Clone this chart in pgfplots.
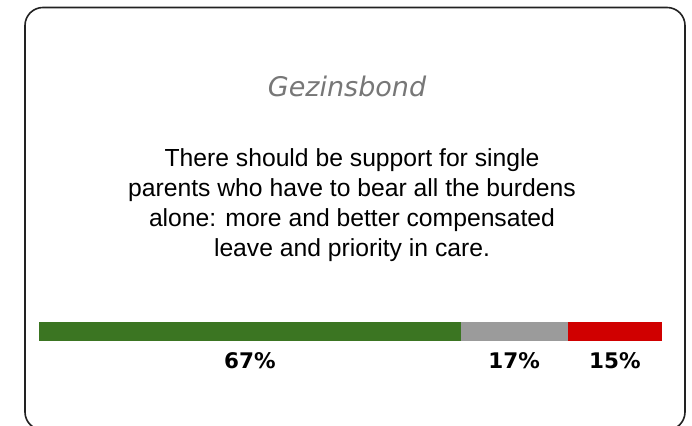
\documentclass[border=0pt]{standalone}
\usepackage{pgfplots}
\pgfplotsset{compat=1.18}
\usepackage{fontspec}
\setmainfont{Liberation Sans}
\newfontfamily\djv{DejaVu Sans}
\definecolor{cgreen}{HTML}{3B7522}
\definecolor{cgray}{HTML}{9B9B9B}
\definecolor{cred}{HTML}{D00000}
\definecolor{cborder}{HTML}{222222}
\definecolor{ctitle}{HTML}{777777}
\begin{document}
\begin{tikzpicture}[x=1pt,y=1pt]
\useasboundingbox (0,0) rectangle (692,425);
\clip (0,0) rectangle (692,425);
\fill[white] (0,0) rectangle (692,425);
\draw[line width=1.6pt, cborder, rounded corners=18pt] (25,-5) rectangle (685,417.5);
% title
\node[anchor=base, text=ctitle, inner sep=0pt] at (347,328) {\djv\itshape\fontsize{27}{32}\selectfont Gezinsbond};
% statement
\node[anchor=base, inner sep=0pt] at (352,258) {\fontsize{24.7}{30}\selectfont There should be support for single};
\node[anchor=base, inner sep=0pt] at (352,228) {\fontsize{24.7}{30}\selectfont parents who have to bear all the burdens};
\node[anchor=base, inner sep=0pt] at (352,198) {\fontsize{24.7}{30}\selectfont alone: more and better compensated};
\node[anchor=base, inner sep=0pt] at (352,168) {\fontsize{24.7}{30}\selectfont leave and priority in care.};
\begin{axis}[
  at={(39pt,84pt)}, anchor=south west,
  scale only axis, width=623pt, height=19pt,
  xbar stacked, bar width=19pt,
  xmin=0, xmax=99, ymin=-0.5, ymax=0.5,
  hide axis, clip=false,
]
\addplot[fill=cgreen, draw=none] coordinates {(67,0)};
\addplot[fill=cgray, draw=none] coordinates {(17,0)};
\addplot[fill=cred, draw=none] coordinates {(15,0)};
\node[anchor=base, inner sep=0pt] at (axis cs:33.5,-1.97) {\djv\bfseries\fontsize{21.5}{25}\selectfont 67\%};
\node[anchor=base, inner sep=0pt] at (axis cs:75.5,-1.97) {\djv\bfseries\fontsize{21.5}{25}\selectfont 17\%};
\node[anchor=base, inner sep=0pt] at (axis cs:91.5,-1.97) {\djv\bfseries\fontsize{21.5}{25}\selectfont 15\%};
\end{axis}
\end{tikzpicture}
\end{document}
